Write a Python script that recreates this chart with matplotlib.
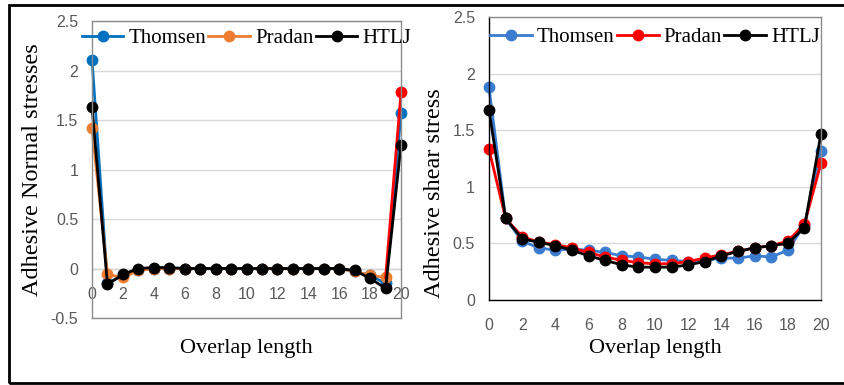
import matplotlib
matplotlib.use("Agg")
import matplotlib.pyplot as plt
from matplotlib.patches import Rectangle

# overlap positions
x = list(range(21))

# adhesive normal stresses (left)
normal_thomsen = [2.11, -0.15, -0.07, -0.01, 0.0, 0.0, 0.0, 0.0, 0.0, 0.0, 0.0,
                  0.0, 0.0, 0.0, 0.0, 0.0, 0.0, -0.03, -0.07, -0.15, 1.57]
normal_pradan = [1.42, -0.06, -0.09, -0.02, 0.0, 0.0, 0.0, 0.0, 0.0, 0.0, 0.0,
                 0.0, 0.0, 0.0, 0.0, 0.0, 0.0, -0.03, -0.07, -0.09, 1.78]
normal_htlj = [1.63, -0.16, -0.06, 0.0, 0.01, 0.01, 0.0, 0.0, 0.0, 0.0, 0.0,
               0.0, 0.0, 0.0, 0.0, 0.0, 0.0, -0.02, -0.10, -0.20, 1.25]

# adhesive shear stress (right)
shear_thomsen = [1.88, 0.72, 0.52, 0.46, 0.44, 0.45, 0.44, 0.42, 0.39, 0.38, 0.36,
                 0.35, 0.34, 0.35, 0.37, 0.37, 0.39, 0.38, 0.44, 0.66, 1.32]
shear_pradan = [1.33, 0.72, 0.56, 0.51, 0.49, 0.46, 0.42, 0.38, 0.35, 0.33, 0.32,
                0.32, 0.34, 0.37, 0.40, 0.43, 0.46, 0.48, 0.52, 0.67, 1.21]
shear_htlj = [1.68, 0.72, 0.54, 0.51, 0.48, 0.44, 0.39, 0.35, 0.31, 0.29, 0.29,
              0.29, 0.31, 0.34, 0.39, 0.43, 0.46, 0.48, 0.50, 0.64, 1.47]

names = ["Thomsen", "Pradan", "HTLJ"]
xticks = list(range(0, 21, 2))
yticks_left = [-0.5, 0, 0.5, 1, 1.5, 2, 2.5]
yticks_right = [0, 0.5, 1, 1.5, 2, 2.5]

serif = "Liberation Serif"
tickfont = "Liberation Sans"
tickcol = "#595959"
boxcol = "#8c8c8c"
gridcol = "#d9d9d9"

fig = plt.figure(figsize=(8.45, 3.85), dpi=100)
ax1 = fig.add_axes([0.1089, 0.174, 0.3657, 0.7714])
ax2 = fig.add_axes([0.5787, 0.2208, 0.3929, 0.735])

lw, ms = 2.0, 7.5

## left panel
ax1.plot(x, normal_thomsen, color="#0070C0", lw=lw, marker="o", ms=ms, label=names[0])
ax1.plot(x[:-1], normal_pradan[:-1], color="#ED7D31", lw=lw, marker="o", ms=ms, label=names[1])
ax1.plot(x[-2:], normal_pradan[-2:], color="red", lw=lw, marker="o", ms=ms, markevery=[1])
ax1.plot(x, normal_htlj, color="black", lw=lw, marker="o", ms=ms, label=names[2])
ax1.set_xlim(0, 20)
ax1.set_ylim(-0.5, 2.5)
ax1.set_yticks(yticks_left)
ax1.set_yticklabels(["-0.5", "0", "0.5", "1", "1.5", "2", "2.5"])
ax1.set_xticks(xticks)
ax1.tick_params(axis="x", length=0, pad=-22)
ax1.axhline(0, color="#bfbfbf", lw=1, zorder=0)
ax1.set_ylabel("Adhesive Normal stresses", fontfamily=serif, fontsize=17.5)
ax1.yaxis.set_label_coords(-0.159, 0.5)
ax1.set_xlabel("Overlap length", fontfamily=serif, fontsize=16, labelpad=15)

## right panel
ax2.plot(x, shear_thomsen, color="#3A7DD0", lw=lw, marker="o", ms=ms, label=names[0])
ax2.plot(x, shear_pradan, color="red", lw=lw, marker="o", ms=ms, label=names[1])
ax2.plot(x, shear_htlj, color="black", lw=lw, marker="o", ms=ms, label=names[2])
ax2.set_xlim(0, 20)
ax2.set_ylim(0, 2.5)
ax2.set_yticks(yticks_right)
ax2.set_yticklabels(["0", "0.5", "1", "1.5", "2", "2.5"])
ax2.set_xticks(xticks)
ax2.tick_params(axis="x", length=0, pad=13)
ax2.set_ylabel("Adhesive shear stress", fontfamily=serif, fontsize=17.5)
ax2.yaxis.set_label_coords(-0.1325, 0.378)
ax2.set_xlabel("Overlap length", fontfamily=serif, fontsize=16, labelpad=4)

for ax, ytop in ((ax1, 1.017), (ax2, 1.007)):
    ax.grid(axis="y", color=gridcol, lw=1)
    ax.set_axisbelow(True)
    ax.tick_params(axis="y", length=0, pad=10)
    for lab in ax.get_xticklabels() + ax.get_yticklabels():
        lab.set_fontfamily(tickfont)
        lab.set_fontsize(11.5)
        lab.set_color(tickcol)
    for s in ax.spines.values():
        s.set_color(boxcol)
        s.set_linewidth(1)
    for ln in ax.lines:
        ln.set_clip_on(False)
    ax.legend(loc="upper center", ncol=3, frameon=False, prop={"family": serif, "size": 15},
              handlelength=2.0, handletextpad=0.25, columnspacing=0.1,
              borderaxespad=0.2, bbox_to_anchor=(0.5, ytop))

ax2.spines["left"].set_color("black")
ax2.spines["bottom"].set_color("black")

# outer frame
fig.add_artist(Rectangle((9 / 845, 2 / 385), 1.0, 378 / 385, transform=fig.transFigure,
                         fill=False, lw=2, color="black"))

fig.savefig("out.png", dpi=100)
